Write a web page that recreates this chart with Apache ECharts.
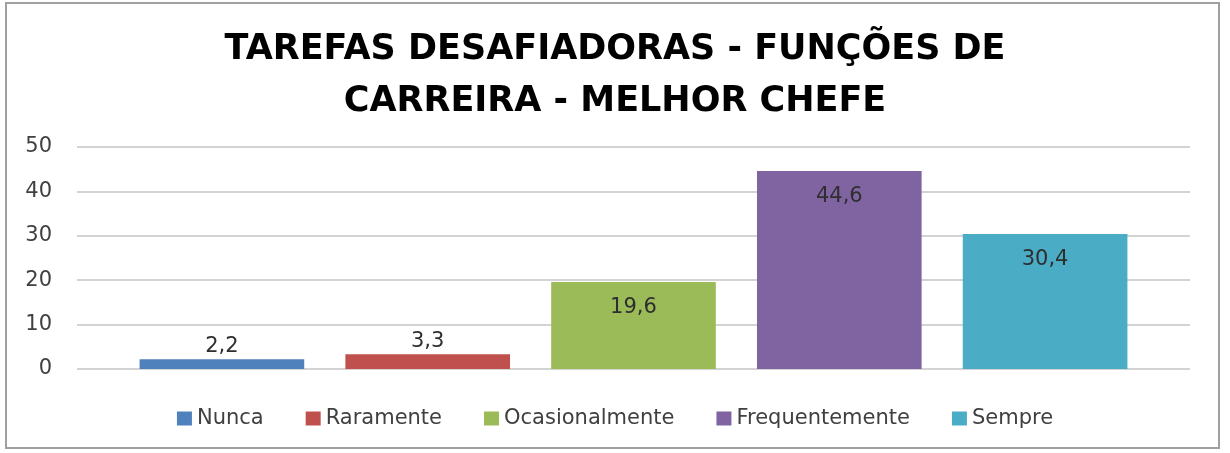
<!DOCTYPE html>
<html>
<head>
<meta charset="utf-8">
<script src="https://cdn.jsdelivr.net/npm/echarts@6/dist/echarts.min.js"></script>
<style>
html,body{margin:0;padding:0;background:#fff;}
#chart{width:1230px;height:453px;}
</style>
</head>
<body>
<div id="chart"></div>
<script>
const titleText = 'TAREFAS DESAFIADORAS - FUNÇÕES DE\nCARREIRA - MELHOR CHEFE';
const categories = ['Nunca', 'Raramente', 'Ocasionalmente', 'Frequentemente', 'Sempre'];
const values = [2.2, 3.3, 19.6, 44.6, 30.4];
const colors = ['#4F81BD', '#C0504D', '#9BBB59', '#8064A2', '#4BACC6'];
const yTicks = [0, 10, 20, 30, 40, 50];

const FONT = 'DejaVu Sans';
const series = categories.map(function (name, i) {
  const data = categories.map(function (c, j) { return j === i ? values[i] : '-'; });
  const small = values[i] < 5;
  return {
    name: name,
    type: 'bar',
    xAxisIndex: 1,
    yAxisIndex: 1,
    stack: 'all',
    barCategoryGap: '20%',
    itemStyle: { color: colors[i] },
    label: {
      show: true,
      position: small ? 'top' : 'insideTop',
      distance: small ? 2 : 15,
      fontFamily: FONT,
      fontSize: 21,
      color: '#2e2e2e',
      formatter: function (p) { return String(p.value).replace('.', ','); }
    },
    data: data
  };
});

const chart = echarts.init(document.getElementById('chart'), null, { renderer: 'canvas' });
chart.setOption({
  animation: false,
  backgroundColor: '#ffffff',
  color: colors,
  title: {
    text: titleText,
    left: 'center',
    top: 19,
    textStyle: {
      fontFamily: FONT,
      fontWeight: 'bold',
      fontSize: 35,
      lineHeight: 52,
      color: '#000000'
    }
  },
  graphic: [{
    type: 'rect',
    shape: { x: 6, y: 3, width: 1213, height: 445 },
    style: { fill: 'none', stroke: '#a0a0a0', lineWidth: 2 },
    silent: true,
    z: -1
  }],
  legend: {
    data: categories,
    left: 'center',
    top: 403,
    itemWidth: 15,
    itemHeight: 14,
    itemGap: 42,
    icon: 'rect',
    textStyle: { fontFamily: FONT, fontSize: 21, color: '#404040' }
  },
  grid: [
    { left: 77, right: 40, top: 147, bottom: 84 },
    { left: 119, right: 82, top: 147, bottom: 84 }
  ],
  xAxis: [
    { type: 'category', gridIndex: 0, data: categories, show: false },
    { type: 'category', gridIndex: 1, data: categories,
      axisLine: { show: false }, axisTick: { show: false }, axisLabel: { show: false } }
  ],
  yAxis: [
    { type: 'value', gridIndex: 0, min: yTicks[0], max: yTicks[yTicks.length - 1], interval: yTicks[1] - yTicks[0],
      axisLine: { show: false }, axisTick: { show: false },
      axisLabel: { fontFamily: FONT, fontSize: 21, color: '#404040', margin: 25 },
      splitLine: { lineStyle: { color: '#c4c4c4', width: 1.5 } } },
    { type: 'value', gridIndex: 1, min: yTicks[0], max: yTicks[yTicks.length - 1], interval: yTicks[1] - yTicks[0],
      show: false, splitLine: { show: false } }
  ],
  series: series
});
</script>
</body>
</html>
